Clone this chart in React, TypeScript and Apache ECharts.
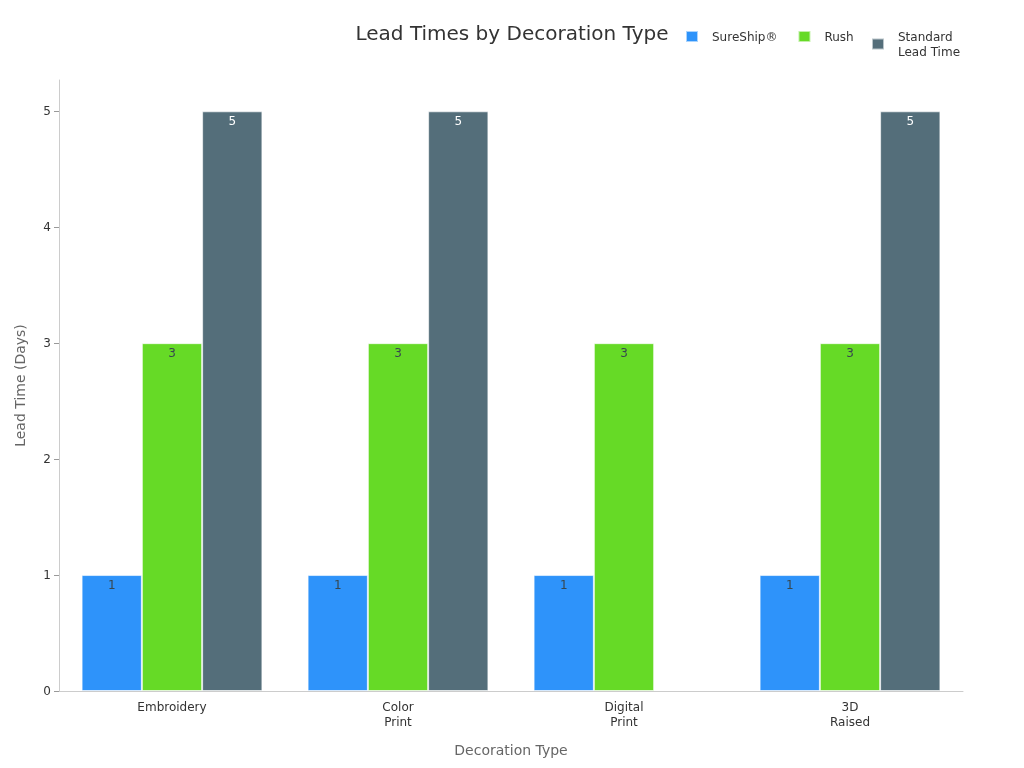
import React, { useEffect, useRef } from "react";
import * as echarts from "echarts";

const categories = ["Embroidery", "Color\nPrint", "Digital\nPrint", "3D\nRaised"];
const sureShip = [1, 1, 1, 1];
const rush = [3, 3, 3, 3];
const standard: (number | null)[] = [5, 5, null, 5];
const yTicks = [0, 1, 2, 3, 4, 5];

const FONT = "DejaVu Sans";

export default function App() {
  const ref = useRef<HTMLDivElement>(null);
  useEffect(() => {
    if (!ref.current) return;
    const chart = echarts.init(ref.current, undefined, { renderer: "svg" });
    const mkSeries = (name: string, data: (number | null)[], color: string, labelColor: string) => ({
      name,
      type: "bar",
      data,
      barGap: "0%",
      barCategoryGap: "20%",
      itemStyle: { color, borderColor: "rgba(255,255,255,0.6)", borderWidth: 1 },
      label: {
        show: true,
        position: "insideTop",
        distance: 4,
        color: labelColor,
        fontSize: 12,
        fontFamily: FONT,
      },
    });
    const legendText = { fontSize: 12, color: "#333", fontFamily: FONT, padding: [0, 0, 0, 9], lineHeight: 15 };
    chart.setOption({
      animation: false,
      textStyle: { fontFamily: FONT },
      title: {
        text: "Lead Times by Decoration Type",
        left: "center",
        top: 18,
        textStyle: { fontSize: 20, fontWeight: "normal", color: "#333", fontFamily: FONT },
      },
      legend: [
        {
          top: 24,
          left: 680,
          icon: "rect",
          itemWidth: 12,
          itemHeight: 11,
          itemGap: 20,
          textStyle: legendText,
          data: ["SureShip®", "Rush"],
        },
        {
          top: 24,
          left: 866,
          icon: "rect",
          itemWidth: 12,
          itemHeight: 11,
          itemGap: 20,
          textStyle: legendText,
          data: ["Standard\nLead Time"],
        },
      ],
      grid: { left: 59, right: 61, top: 80, bottom: 77, containLabel: false },
      xAxis: {
        type: "category",
        data: categories,
        name: "Decoration Type",
        nameLocation: "middle",
        nameGap: 52,
        nameTextStyle: { fontSize: 14, color: "#666", fontFamily: FONT },
        axisLine: { lineStyle: { color: "#ccc" } },
        axisTick: { alignWithLabel: true, lineStyle: { color: "#999" }, length: 4 },
        axisLabel: { fontSize: 12, color: "#333", fontFamily: FONT, lineHeight: 15, margin: 8 },
      },
      yAxis: {
        type: "value",
        min: 0,
        max: 5.27,
        interval: 1,
        name: "Lead Time (Days)",
        nameLocation: "middle",
        nameGap: 32,
        nameTextStyle: { fontSize: 14, color: "#666", fontFamily: FONT },
        axisLine: { show: true, lineStyle: { color: "#ccc" } },
        axisTick: { show: true, lineStyle: { color: "#999" }, length: 5 },
        splitLine: { show: false },
        axisLabel: {
          fontSize: 12,
          color: "#333",
          fontFamily: FONT,
          showMaxLabel: false,
          formatter: (v: number) => (yTicks.includes(v) ? String(v) : ""),
        },
      },
      series: [
        mkSeries("SureShip®", sureShip, "#2E93FA", "#37474F"),
        mkSeries("Rush", rush, "#66DA26", "#37474F"),
        mkSeries("Standard\nLead Time", standard, "#546E7A", "#FFFFFF"),
      ],
    });
    return () => chart.dispose();
  }, []);
  return (
    <div
      ref={ref}
      style={{ position: "fixed", left: 0, top: 0, width: 1024, height: 768 }}
    />
  );
}
